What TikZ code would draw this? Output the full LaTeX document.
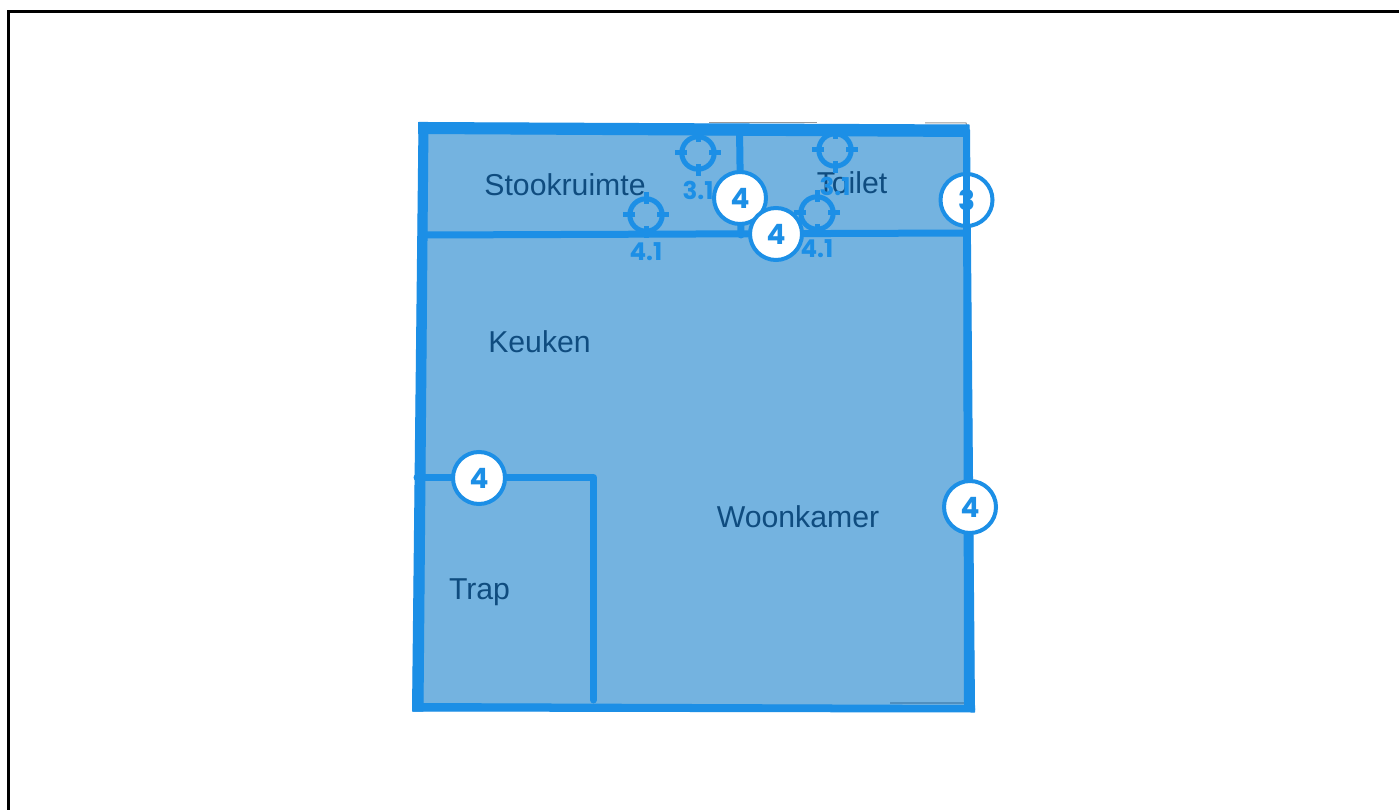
\documentclass[tikz,border=0pt]{standalone}
\usepackage{fontspec}
\setmainfont{Liberation Sans}
\newfontfamily\badgefont{Poppins}[BoldFont={Poppins Bold}]
\definecolor{wallblue}{HTML}{1C8FE6}
\definecolor{roomfill}{HTML}{74B3E0}
\definecolor{labelblue}{HTML}{0F4C7F}
\tikzset{
  x=1pt,y=-1pt,
  outerwall/.style={fill=wallblue,draw=wallblue,line width=1pt,line join=round},
  innerwall/.style={draw=wallblue,line width=7pt,line cap=round,line join=round},
  roomlabel/.style={text=labelblue,font=\fontsize{30.2}{31}\selectfont,inner sep=0pt,anchor=center},
  badge/.style={circle,draw=wallblue,fill=white,line width=4pt,minimum size=52pt,inner sep=0pt,text=wallblue,font=\badgefont\bfseries\fontsize{28}{29}\selectfont},
  marklabel/.style={text=wallblue,font=\badgefont\bfseries\fontsize{24.5}{25}\selectfont,inner sep=0pt},
  ringline/.style={draw=wallblue,line width=5pt},
  pics/target/.style={code={
    \draw[ringline] (0,0) circle[radius=16.2];
    \foreach \a in {0,90,180,270}{\draw[ringline] (\a:11) -- (\a:23);}
  }}
}
\begin{document}
\begin{tikzpicture}
\useasboundingbox (0,0) rectangle (1399,810);
\fill[white] (0,0) rectangle (1399,810);
% frame
\coordinate (fa) at (8.5,812);
\coordinate (fb) at (8.5,11.5);
\coordinate (fc) at (1401,11.5);
\draw[black,line width=3pt,line join=miter] (fa) -- (fb) -- (fc);
% plan corners
\coordinate (TL) at (422,127);
\coordinate (TR) at (967,130);
\coordinate (BR) at (970,707);
\coordinate (BL) at (417,707);
\coordinate (JL) at (426,235);
\coordinate (JR) at (966,233);
\coordinate (JT) at (739.5,130);
\coordinate (JM) at (741,235);
\coordinate (SL) at (417,477.5);
\coordinate (SC) at (593.5,477.5);
\coordinate (SB) at (593.5,700);
% grey underlay lines
\coordinate (ga) at (709,123);
\coordinate (gb) at (817,123);
\coordinate (gc) at (925,123);
\coordinate (gd) at (966,123);
\coordinate (ge) at (968,128);
\draw[gray!80,line width=1pt] (ga) -- (gb);
\draw[gray!80,line width=1pt] (gc) -- (gd) -- (ge);
% room fill
\fill[roomfill] (TL) -- (TR) -- (BR) -- (BL) -- cycle;
\coordinate (da) at (890,703);
\coordinate (db) at (965,703);
\draw[labelblue!35!roomfill,line width=1.2pt] (da) -- (db);
% labels
\node[roomlabel] (stook) at (565,185) {Stookruimte};
\node[roomlabel] (toilet) at (852,183) {Toilet};
\node[roomlabel] (keuken) at (539.5,342) {Keuken};
\node[roomlabel] (woon) at (798,517) {Woonkamer};
\node[roomlabel] (trap) at (479.5,592.5) {Trap};
% walls
\draw[innerwall] (JL) -- (JR);
\draw[innerwall] (JT) -- (JM);
\draw[innerwall] (SL) -- (SC) -- (SB);
\draw[outerwall] (419,122.5) -- (428,122.5) -- (423,711) -- (412.5,711) -- cycle;
\draw[outerwall] (418.5,122.5) -- (969,125) -- (969,136.5) -- (418.5,133.5) -- cycle;
\draw[outerwall] (413,703.5) -- (974.5,705.5) -- (974.5,712) -- (413,711) -- cycle;
\draw[outerwall] (963.5,130) -- (969.5,130) -- (974.5,710) -- (964.5,710) -- cycle;
% targets
\pic at (698,153) {target};
\pic at (646,215) {target};
\pic at (817,213) {target};
\pic at (835,150) {target};
\node[marklabel] (m1) at (698,190) {3.1};
\node[marklabel] (m2) at (646,252) {4.1};
\node[marklabel] (m3) at (817,249) {4.1};
\node[marklabel] (m4) at (835,186) {3.1};
% badges
\node[badge] (b3) at (966.5,200) {3};
\coordinate (wa) at (966.5,172);
\coordinate (wb) at (966.5,230);
\draw[draw=wallblue,line width=6.5pt] (wa) -- (wb);
\node[badge] (b1) at (740,198) {4};
\node[badge] (b2) at (776,234) {4};
\node[badge] (b4) at (970,507) {4};
\node[badge] (b5) at (479,478) {4};
\end{tikzpicture}
\end{document}
